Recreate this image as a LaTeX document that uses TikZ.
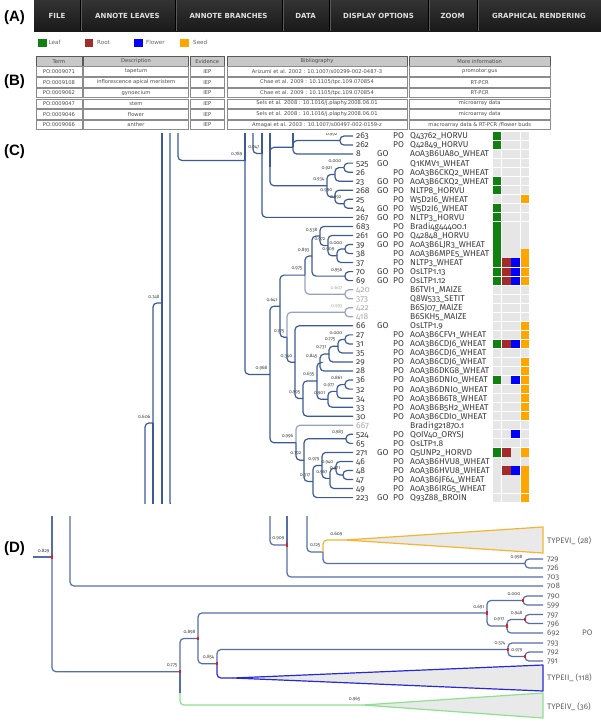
\documentclass[tikz,border=0pt]{standalone}
\usepackage{fontspec}
\usetikzlibrary{calc}
\setmainfont{DejaVu Sans}
\newfontfamily\treefont[Numbers=OldStyle]{Fira Sans}
\newfontfamily\uifont{DejaVu Sans}
\newfontfamily\lblfont{Liberation Sans}
\definecolor{cline}{RGB}{60,90,150}
\definecolor{cgray}{RGB}{150,162,192}
\definecolor{dline}{RGB}{85,110,168}
\definecolor{sqL}{RGB}{16,128,16}
\definecolor{sqR}{RGB}{165,42,42}
\definecolor{sqF}{RGB}{0,0,255}
\definecolor{sqS}{RGB}{255,165,0}
\definecolor{sqE}{RGB}{230,230,230}
\definecolor{reddot}{RGB}{225,30,30}
\definecolor{triO}{RGB}{245,180,50}
\definecolor{triB}{RGB}{40,40,215}
\definecolor{triG}{RGB}{140,225,140}
\definecolor{trifill}{RGB}{233,233,233}
\definecolor{txt}{RGB}{60,60,60}
\definecolor{numg}{RGB}{170,170,170}
\definecolor{hdrfill}{RGB}{200,200,200}
\newcommand\blab[3][]{\node[bl,#1] (lb#2) at ($(#2)+(-2.5,-6.3)$) {#3};}
\newcommand\edg[3][]{\draw[br,#1] (#2) |- (#3);}
\newcommand\dedg[3][]{\draw[brD,#1] (#2) |- (#3);}
\newcommand\rdot[1]{\fill[reddot] ($(#1)+(-1.3,-1.6)$) rectangle ($(#1)+(1.3,1.6)$);}
\newcommand\trow[8]{%
 \draw[#3] (36,#2) rectangle (82,#2+9.5);
 \node[ttxt] (t#1a) at (59,#2+4.75) {#4};
 \draw[#3] (83.5,#2) rectangle (188.5,#2+9.5);
 \node[ttxt] (t#1b) at (136,#2+4.75) {#5};
 \draw[#3] (190.5,#2) rectangle (224,#2+9.5);
 \node[ttxt] (t#1c) at (207.25,#2+4.75) {#6};
 \draw[#3] (227,#2) rectangle (407,#2+9.5);
 \node[ttxt] (t#1d) at (317,#2+4.75) {#7};
 \draw[#3] (409,#2) rectangle (550.5,#2+9.5);
 \node[ttxt] (t#1e) at (479.75,#2+4.75) {#8};
}
\begin{document}
\begin{tikzpicture}[x=1pt,y=-1pt,
 br/.style={draw=cline,line width=1.2pt,rounded corners=4pt},
 brg/.style={draw=cgray},
 brD/.style={draw=dline,line width=1.2pt,rounded corners=4pt},
 bl/.style={font=\treefont\fontsize{4.8}{5}\selectfont,text=txt,anchor=east,inner sep=0pt},
 leaftxt/.style={font=\treefont\fontsize{8.5}{9}\selectfont,anchor=base west,inner sep=0pt,text=txt},
 dleaf/.style={font=\treefont\fontsize{8}{9}\selectfont,anchor=base west,inner sep=0pt,text=black!62},
 plabel/.style={font=\lblfont\bfseries\fontsize{15}{16}\selectfont,inner sep=0pt},
 menu/.style={font=\uifont\bfseries\fontsize{7}{8}\selectfont,text=black!12,inner sep=0pt},
 legtxt/.style={font=\uifont\fontsize{5.6}{6}\selectfont,text=black!60,anchor=west,inner sep=0pt},
 ttxt/.style={font=\uifont\fontsize{5.2}{6}\selectfont,text=black!70,inner sep=0pt},
 hdr/.style={draw=black!65,line width=0.8pt,fill=hdrfill},
 body/.style={draw=black!45,line width=0.5pt,fill=white},
]
\useasboundingbox (0,0) rectangle (601,728);
\fill[white] (0,0) rectangle (601,728);

% ---------------- panel labels
\node[plabel] (labA) at (14.5,18) {(A)};
\node[plabel] (labB) at (14.5,82) {(B)};
\node[plabel] (labC) at (14.5,152) {(C)};
\node[plabel] (labD) at (14.5,549) {(D)};

% ---------------- (A) menu bar
\shade[top color=black!80,bottom color=black!90] (34,0) rectangle (601,31);
\foreach \sx in {80,175,282,329,428,477}{
  \draw[black,line width=1pt] (\sx,0) -- (\sx,31);
  \draw[black!65,line width=0.5pt] (\sx+1,0) -- (\sx+1,31);
}
\node[menu] (mFile) at (57,16) {FILE};
\node[menu] (mLeaves) at (127.5,16) {ANNOTE LEAVES};
\node[menu] (mBranch) at (228.5,16) {ANNOTE BRANCHES};
\node[menu] (mData) at (305.5,16) {DATA};
\node[menu] (mDisp) at (378.5,16) {DISPLAY OPTIONS};
\node[menu] (mZoom) at (452.5,16) {ZOOM};
\node[menu] (mGraph) at (539,16) {GRAPHICAL RENDERING};

% legend
\fill[sqL] (38,38.5) rectangle (46.5,46.5);
\node[legtxt] (lgL) at (48.5,42.5) {Leaf};
\fill[sqR] (84.5,38.5) rectangle (93,46.5);
\node[legtxt] (lgR) at (97,42.5) {Root};
\fill[sqF] (134,38.5) rectangle (142.5,46.5);
\node[legtxt] (lgF) at (146,42.5) {Flower};
\fill[sqS] (180,38.5) rectangle (188.5,46.5);
\node[legtxt] (lgS) at (193,42.5) {Seed};

% ---------------- (B) table
\trow{h}{56.5}{hdr}{Term}{Description}{Evidence}{Bibliography}{More information}
\trow{a}{66.7}{body}{PO:0009071}{tapetum}{IEP}{Arizumi et al. 2002 : 10.1007/s00299-002-0487-3}{promotor:gus}
\trow{b}{77.4}{body}{PO:0009108}{inflorescence apical meristem}{IEP}{Chae et al. 2009 : 10.1105/tpc.109.070854}{RT-PCR}
\trow{c}{88.1}{body}{PO:0009062}{gynoecium}{IEP}{Chae et al. 2009 : 10.1105/tpc.109.070854}{RT-PCR}
\trow{d}{98.8}{body}{PO:0009047}{stem}{IEP}{Sels et al. 2008 : 10.1016/j.plaphy.2008.06.01}{microarray data}
\trow{e}{109.5}{body}{PO:0009046}{flower}{IEP}{Sels et al. 2008 : 10.1016/j.plaphy.2008.06.01}{microarray data}
\trow{f}{120.2}{body}{PO:0009066}{anther}{IEP}{Amagai et al. 2003 : 10.1007/s00497-002-0159-z}{macroarray data \& RT-PCR /flower buds}

% ---------------- (C) tree
\foreach \ri/\nu/\go/\po/\nm/\nc in {
1/263//PO/Q43762\_HORVU/txt,
2/262//PO/Q42849\_HORVU/txt,
3/8/GO//A0A3B6UA80\_WHEAT/txt,
4/525/GO//Q1KMV1\_WHEAT/txt,
5/26//PO/A0A3B6CKQ2\_WHEAT/txt,
6/23/GO/PO/A0A3B6CKQ2\_WHEAT/txt,
7/268/GO/PO/NLTP8\_HORVU/txt,
8/25//PO/W5D2I6\_WHEAT/txt,
9/24/GO/PO/W5D2I6\_WHEAT/txt,
10/267/GO/PO/NLTP3\_HORVU/txt,
11/683//PO/Bradi4g44400.1/txt,
12/261/GO/PO/Q42848\_HORVU/txt,
13/39/GO/PO/A0A3B6LJR3\_WHEAT/txt,
14/38//PO/A0A3B6MPE5\_WHEAT/txt,
15/37//PO/NLTP3\_WHEAT/txt,
16/70/GO/PO/OsLTP1.13/txt,
17/69/GO/PO/OsLTP1.12/txt,
18/420///B6TVI1\_MAIZE/numg,
19/373///Q8W533\_SETIT/numg,
20/422///B6SJ07\_MAIZE/numg,
21/418///B6SKH5\_MAIZE/numg,
22/66/GO//OsLTP1.9/txt,
23/27//PO/A0A3B6CFV1\_WHEAT/txt,
24/31//PO/A0A3B6CDJ6\_WHEAT/txt,
25/35//PO/A0A3B6CDJ6\_WHEAT/txt,
26/29//PO/A0A3B6CDJ6\_WHEAT/txt,
27/28//PO/A0A3B6DKG8\_WHEAT/txt,
28/36//PO/A0A3B6DNI0\_WHEAT/txt,
29/32//PO/A0A3B6DNI0\_WHEAT/txt,
30/34//PO/A0A3B6B6T8\_WHEAT/txt,
31/33//PO/A0A3B6B5H2\_WHEAT/txt,
32/30//PO/A0A3B6CDI0\_WHEAT/txt,
33/667///Bradi1g21870.1/numg,
34/524//PO/Q0IV40\_ORYSJ/txt,
35/65//PO/OsLTP1.8/txt,
36/271/GO/PO/Q5UNP2\_HORVD/txt,
37/46//PO/A0A3B6HVU8\_WHEAT/txt,
38/48//PO/A0A3B6HVU8\_WHEAT/txt,
39/47//PO/A0A3B6JF64\_WHEAT/txt,
40/49//PO/A0A3B6IRG5\_WHEAT/txt,
41/223/GO/PO/Q93Z88\_BROIN/txt}{
  \pgfmathsetmacro\yy{136+(\ri-1)*9.04}
  \coordinate (L\ri) at (353,\yy);
  \node[leaftxt,text=\nc] (num\ri) at (356,\yy+2.9) {\nu};
  \node[leaftxt] (go\ri) at (377,\yy+2.9) {\go};
  \node[leaftxt] (po\ri) at (393,\yy+2.9) {\po};
  \node[leaftxt] (nm\ri) at (410,\yy+2.9) {\nm};
}
% annotation squares
\foreach \ri/\sa/\sb/\sc/\sd in {
1/sqL/sqE/sqE/sqE, 2/sqL/sqE/sqE/sqE, 3/sqE/sqE/sqE/sqE, 4/sqE/sqE/sqE/sqE,
5/sqE/sqE/sqE/sqE, 6/sqL/sqE/sqE/sqE, 7/sqL/sqE/sqE/sqE, 8/sqE/sqE/sqE/sqS,
9/sqL/sqE/sqE/sqE, 10/sqL/sqE/sqE/sqE, 11/sqL/sqE/sqE/sqE, 12/sqL/sqE/sqE/sqE,
13/sqL/sqE/sqE/sqE, 14/sqL/sqE/sqE/sqS, 15/sqL/sqR/sqF/sqS, 16/sqL/sqR/sqF/sqS,
17/sqL/sqR/sqF/sqS, 18/sqE/sqE/sqE/sqE, 19/sqE/sqE/sqE/sqE, 20/sqE/sqE/sqE/sqE,
21/sqE/sqE/sqE/sqE, 22/sqE/sqE/sqE/sqS, 23/sqE/sqE/sqE/sqS, 24/sqL/sqR/sqF/sqS,
25/sqE/sqE/sqE/sqE, 26/sqE/sqE/sqE/sqS, 27/sqE/sqE/sqE/sqS, 28/sqL/sqE/sqF/sqS,
29/sqE/sqE/sqE/sqS, 30/sqE/sqE/sqE/sqS, 31/sqE/sqE/sqE/sqS, 32/sqE/sqE/sqE/sqS,
33/sqE/sqE/sqE/sqE, 34/sqE/sqE/sqF/sqE, 35/sqE/sqE/sqE/sqE, 36/sqL/sqR/sqE/sqS,
37/sqE/sqE/sqE/sqE, 38/sqE/sqR/sqF/sqS, 39/sqE/sqE/sqE/sqS, 40/sqE/sqE/sqE/sqS,
41/sqE/sqE/sqE/sqS}{
  \pgfmathsetmacro\yy{136+(\ri-1)*9.04}
  \fill[fill=\sa] (493,\yy-4.1) rectangle (501.3,\yy+4.1);
  \fill[fill=\sb] (502.2,\yy-4.1) rectangle (510.5,\yy+4.1);
  \fill[fill=\sc] (511.4,\yy-4.1) rectangle (519.7,\yy+4.1);
  \fill[fill=\sd] (520.6,\yy-4.1) rectangle (528.9,\yy+4.1);
}

% internal nodes of tree C
\coordinate (cB1) at (145,560);
\coordinate (cB2) at (153,560);
\coordinate (cB3) at (162,560);
\coordinate (cT1) at (162,120);
\coordinate (cT2) at (170,120);
\coordinate (cB4) at (240,507);
\coordinate (cT3) at (178,120);
\coordinate (cT4) at (253,120);
\coordinate (cT5) at (245,120);
\coordinate (cT6) at (262,120);
\coordinate (cT7) at (270,120);
\coordinate (cT8) at (293,120);
\coordinate (N606) at (153,423);
\coordinate (N748) at (162,303);
\coordinate (N789) at (245,160.5);
\coordinate (N947) at (262,153.5);
\coordinate (U) at (270,166.5);
\coordinate (B) at (293,147.30);
\coordinate (A) at (340,140.52);
\coordinate (N000a) at (344,167.64);
\coordinate (N921) at (335,174.42);
\coordinate (N992) at (344,203.80);
\coordinate (N990) at (335,197.02);
\coordinate (N934) at (327,185.72);
\coordinate (N000b) at (345,249.00);
\coordinate (N979) at (337,255.78);
\coordinate (N972) at (328,245.61);
\coordinate (N538) at (320,236.01);
\coordinate (N956) at (345,276.12);
\coordinate (N893) at (312,256.07);
\coordinate (N607) at (345,294.20);
\coordinate (N975) at (305,275.14);
\coordinate (N993) at (345,312.28);
\coordinate (N000c) at (345,339.40);
\coordinate (N775b) at (338,346.18);
\coordinate (N731) at (329,354.09);
\coordinate (N845) at (320,362.57);
\coordinate (N861) at (345,384.60);
\coordinate (N977) at (337,391.38);
\coordinate (N901) at (328,399.29);
\coordinate (N635) at (317,380.93);
\coordinate (N995) at (303,398.59);
\coordinate (N340) at (295,362.21);
\coordinate (N775a) at (287,337.25);
\coordinate (N641) at (280,306.19);
\coordinate (N983) at (346,438.84);
\coordinate (N971) at (343,475.00);
\coordinate (N940) at (336,468.22);
\coordinate (N967) at (330,478.39);
\coordinate (N979b) at (322,465.40);
\coordinate (N317) at (313,481.50);
\coordinate (N792) at (304,460.17);
\coordinate (N996) at (296,442.73);
\coordinate (N968) at (270,374.46);

\begin{scope}
\clip (30,133) rectangle (601,503.5);
% gray branches
\edg[brg]{N975}{N607} \edg[brg]{N607}{L18} \edg[brg]{N607}{L19}
\edg[brg]{N775a}{N993} \edg[brg]{N993}{L20} \edg[brg]{N993}{L21}
\edg[brg]{N996}{L33}
% deep branches (continuing beyond the visible window)
\edg{cB1}{N606}
\edg{N606}{N748}
\draw[br] (N606) -- (cB2);
\draw[br] (cT1) -- (cB3);
\edg{cT2}{cB4}
\edg{cT3}{N789}
\draw[br] (N789) -- (cT5);
\edg{N789}{N968}
\edg{cT4}{N947}
\draw[br] (N947) -- (cT6);
\edg{N947}{L10}
\draw[br] (U) -- (cT7);
\edg{U}{B} \edg{U}{N934}
\draw[br] (B) -- (cT8);
\edg{B}{A} \edg{B}{L3}
\edg{A}{L1} \edg{A}{L2}
\edg{N934}{N921} \edg{N934}{N990}
\edg{N921}{N000a} \edg{N921}{L6}
\edg{N000a}{L4} \edg{N000a}{L5}
\edg{N990}{L7} \edg{N990}{N992}
\edg{N992}{L8} \edg{N992}{L9}
\edg{N968}{N641} \edg{N968}{N996}
\edg{N641}{N975} \edg{N641}{N775a}
\edg{N975}{N893}
\edg{N893}{N538} \edg{N893}{N956}
\edg{N538}{L11} \edg{N538}{N972}
\edg{N972}{L12} \edg{N972}{N979}
\edg{N979}{N000b} \edg{N979}{L15}
\edg{N000b}{L13} \edg{N000b}{L14}
\edg{N956}{L16} \edg{N956}{L17}
\edg{N775a}{N340}
\edg{N340}{L22} \edg{N340}{N995}
\edg{N995}{N635} \edg{N995}{L32}
\edg{N635}{N845} \edg{N635}{N901}
\edg{N845}{N731} \edg{N845}{L27}
\edg{N731}{N775b} \edg{N731}{L26}
\edg{N775b}{N000c} \edg{N775b}{L25}
\edg{N000c}{L23} \edg{N000c}{L24}
\edg{N901}{N977} \edg{N901}{L31}
\edg{N977}{N861} \edg{N977}{L30}
\edg{N861}{L28} \edg{N861}{L29}
\edg{N996}{N792}
\edg{N792}{N983} \edg{N792}{N317}
\edg{N983}{L34} \edg{N983}{L35}
\edg{N317}{N979b} \edg{N317}{L41}
\edg{N979b}{L36} \edg{N979b}{N967}
\edg{N967}{N940} \edg{N967}{L40}
\edg{N940}{L37} \edg{N940}{N971}
\edg{N971}{L38} \edg{N971}{L39}
% bootstrap labels
\blab{A}{0.992}
\blab{N947}{0.947}
\blab{N789}{0.789}
\blab{N000a}{0.000}
\blab{N921}{0.921}
\blab{N934}{0.934}
\blab{N990}{0.990}
\blab{N992}{0.992}
\blab{N538}{0.538}
\blab{N972}{0.972}
\blab{N000b}{0.000}
\blab{N979}{0.909}
\blab{N893}{0.893}
\blab{N956}{0.956}
\blab{N975}{0.975}
\blab[text=numg]{N607}{0.607}
\blab[text=numg]{N993}{0.993}
\blab{N641}{0.641}
\blab{N775a}{0.775}
\blab{N000c}{0.000}
\blab{N775b}{0.775}
\blab{N731}{0.731}
\blab{N845}{0.845}
\blab{N340}{0.340}
\blab{N968}{0.968}
\blab{N635}{0.635}
\blab{N861}{0.861}
\blab{N977}{0.977}
\blab{N995}{0.995}
\blab{N901}{0.901}
\blab{N983}{0.983}
\blab{N996}{0.996}
\blab{N792}{0.792}
\blab{N979b}{0.979}
\blab{N940}{0.940}
\blab{N971}{0.971}
\blab{N317}{0.317}
\blab{N967}{0.967}
\blab{N748}{0.748}
\blab{N606}{0.606}
\end{scope}

% ---------------- (D) collapsed tree
\coordinate (dS) at (33,557);
\coordinate (R829) at (52,557);
\coordinate (dT1) at (52,510);
\coordinate (dT2) at (70,510);
\coordinate (dT3) at (270,510);
\coordinate (dT4) at (287,510);
\coordinate (dT5) at (307,510);
\coordinate (N909) at (287,545);
\coordinate (N125) at (323,552);
\coordinate (A6) at (345,540);
\coordinate (N998) at (525,563.5);
\coordinate (N691) at (487,613);
\coordinate (N000D) at (523,600.5);
\coordinate (N917) at (507,626);
\coordinate (N948) at (525,619.5);
\coordinate (N574) at (508,649.5);
\coordinate (N979D) at (525,656.5);
\coordinate (N775D) at (180,671.7);
\coordinate (dG) at (180,693);
\coordinate (N898) at (198,638.4);
\coordinate (N854) at (217,663.7);
\coordinate (A2) at (233,678);
\coordinate (A4) at (363,705);
\foreach \nm/\yy in {729/559,726/568,703/577,708/586,790/596,599/605,797/614.5,796/623.5,692/633,793/643,792/652,791/661}{
  \coordinate (D\nm) at (543,\yy);
  \node[dleaf] (d\nm) at (547,\yy+2.7) {\nm};
}
\node[dleaf] (dPO) at (582,635.7) {PO};
\node[dleaf] (dT6) at (547,543.7) {TYPEVI\_ (28)};
\node[dleaf] (dT2n) at (547,680.7) {TYPEII\_ (118)};
\node[dleaf] (dT4n) at (547,709.7) {TYPEIV\_ (36)};

\begin{scope}
\clip (30,516) rectangle (601,728);
\filldraw[fill=trifill,draw=triO,line width=1.2pt,line join=round] (A6) -- (543,527) -- (543,553) -- cycle;
\filldraw[fill=trifill,draw=triB,line width=1.2pt,line join=round] (A2) -- (543,665) -- (543,691) -- cycle;
\filldraw[fill=trifill,draw=triG,line width=1.2pt,line join=round] (A4) -- (543,693) -- (543,718) -- cycle;
\draw[brD] (dS) -- (R829);
\draw[brD] (R829) -- (dT1);
\dedg{R829}{N775D}
\dedg{dT2}{D708}
\dedg{dT3}{N909}
\draw[brD] (N909) -- (dT4);
\dedg{N909}{D703}
\dedg{dT5}{N125}
\dedg[draw=triO]{N125}{A6}
\dedg{N125}{N998}
\dedg{N998}{D729} \dedg{N998}{D726}
\dedg[draw=triG]{N775D}{A4}
\draw[brD] (N775D) -- (dG);
\dedg{N775D}{N898}
\dedg{N898}{N691}
\dedg{N898}{N854}
\dedg{N691}{N000D} \dedg{N691}{N917}
\dedg{N000D}{D790} \dedg{N000D}{D599}
\dedg{N917}{N948} \dedg{N917}{D692}
\dedg{N948}{D797} \dedg{N948}{D796}
\dedg{N854}{N574}
\dedg[draw=triB]{N854}{A2}
\dedg{N574}{D793} \dedg{N574}{N979D}
\dedg{N979D}{D792} \dedg{N979D}{D791}
\blab{R829}{0.829}
\blab{N909}{0.909}
\blab{N125}{0.125}
\blab{A6}{0.609}
\blab{N998}{0.998}
\blab{N000D}{0.000}
\blab{N691}{0.691}
\blab{N948}{0.948}
\blab{N917}{0.917}
\blab{N574}{0.574}
\blab{N979D}{0.979}
\blab{N775D}{0.775}
\blab{N898}{0.898}
\blab{N854}{0.854}
\blab{A4}{0.965}
\rdot{R829} \rdot{N909} \rdot{N000D} \rdot{N691} \rdot{N948} \rdot{N917}
\rdot{N574} \rdot{N979D} \rdot{N775D} \rdot{N898} \rdot{N854}
\end{scope}
\end{tikzpicture}
\end{document}
